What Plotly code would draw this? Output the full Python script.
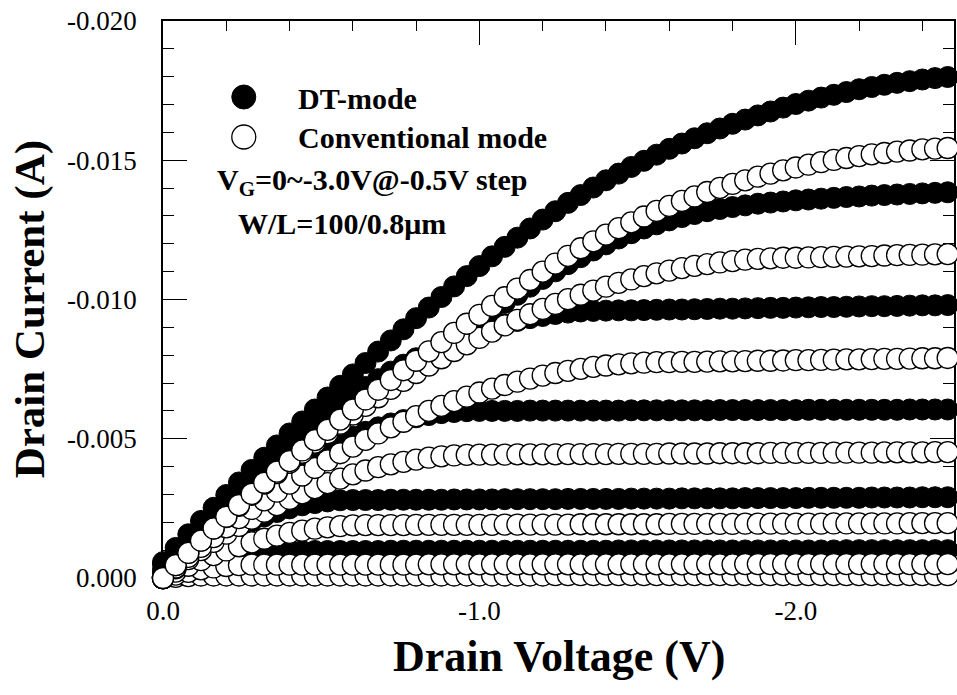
import plotly.graph_objects as go

# Drain voltage sweep (V)
vd = [0.00, -0.04, -0.08, -0.12, -0.16, -0.20, -0.24, -0.28, -0.32, -0.36,
      -0.40, -0.44, -0.48, -0.52, -0.56, -0.60, -0.64, -0.68, -0.72, -0.76,
      -0.80, -0.84, -0.88, -0.92, -0.96, -1.00, -1.04, -1.08, -1.12, -1.16,
      -1.20, -1.24, -1.28, -1.32, -1.36, -1.40, -1.44, -1.48, -1.52, -1.56,
      -1.60, -1.64, -1.68, -1.72, -1.76, -1.80, -1.84, -1.88, -1.92, -1.96,
      -2.00, -2.04, -2.08, -2.12, -2.16, -2.20, -2.24, -2.28, -2.32, -2.36,
      -2.40, -2.44, -2.48]

# DT-mode drain current (A), one list per gate voltage
dt_vg00 = [-0.00002, -0.00008, -0.00011, -0.00014, -0.00014, -0.00014, -0.00014, -0.00014, -0.00014, -0.00014,
           -0.00014, -0.00014, -0.00014, -0.00014, -0.00014, -0.00014, -0.00014, -0.00014, -0.00014, -0.00014,
           -0.00014, -0.00014, -0.00014, -0.00014, -0.00014, -0.00014, -0.00015, -0.00015, -0.00015, -0.00015,
           -0.00015, -0.00015, -0.00015, -0.00015, -0.00015, -0.00015, -0.00015, -0.00015, -0.00015, -0.00015,
           -0.00015, -0.00015, -0.00015, -0.00015, -0.00015, -0.00015, -0.00015, -0.00015, -0.00015, -0.00015,
           -0.00015, -0.00015, -0.00015, -0.00015, -0.00015, -0.00015, -0.00015, -0.00015, -0.00015, -0.00015,
           -0.00015, -0.00015, -0.00015]
dt_vg05 = [-0.00005, -0.00025, -0.00042, -0.00057, -0.00070, -0.00080, -0.00088, -0.00093, -0.00096, -0.00097,
           -0.00097, -0.00097, -0.00097, -0.00097, -0.00097, -0.00097, -0.00097, -0.00097, -0.00098, -0.00098,
           -0.00098, -0.00098, -0.00098, -0.00098, -0.00098, -0.00098, -0.00098, -0.00098, -0.00098, -0.00098,
           -0.00098, -0.00098, -0.00098, -0.00098, -0.00098, -0.00098, -0.00099, -0.00099, -0.00099, -0.00099,
           -0.00099, -0.00099, -0.00099, -0.00099, -0.00099, -0.00099, -0.00099, -0.00099, -0.00099, -0.00099,
           -0.00099, -0.00099, -0.00099, -0.00099, -0.00100, -0.00100, -0.00100, -0.00100, -0.00100, -0.00100,
           -0.00100, -0.00100, -0.00100]
dt_vg10 = [-0.00010, -0.00045, -0.00077, -0.00107, -0.00135, -0.00160, -0.00183, -0.00203, -0.00221, -0.00237,
           -0.00250, -0.00261, -0.00269, -0.00275, -0.00279, -0.00280, -0.00280, -0.00280, -0.00281, -0.00281,
           -0.00281, -0.00281, -0.00281, -0.00282, -0.00282, -0.00282, -0.00282, -0.00283, -0.00283, -0.00283,
           -0.00283, -0.00283, -0.00284, -0.00284, -0.00284, -0.00284, -0.00284, -0.00285, -0.00285, -0.00285,
           -0.00285, -0.00286, -0.00286, -0.00286, -0.00286, -0.00286, -0.00287, -0.00287, -0.00287, -0.00287,
           -0.00287, -0.00288, -0.00288, -0.00288, -0.00288, -0.00288, -0.00289, -0.00289, -0.00289, -0.00289,
           -0.00290, -0.00290, -0.00290]
dt_vg15 = [-0.00020, -0.00065, -0.00109, -0.00151, -0.00191, -0.00229, -0.00265, -0.00299, -0.00332, -0.00362,
           -0.00391, -0.00418, -0.00443, -0.00466, -0.00488, -0.00507, -0.00525, -0.00541, -0.00555, -0.00567,
           -0.00577, -0.00585, -0.00592, -0.00596, -0.00599, -0.00600, -0.00600, -0.00600, -0.00600, -0.00601,
           -0.00601, -0.00601, -0.00601, -0.00601, -0.00601, -0.00601, -0.00601, -0.00602, -0.00602, -0.00602,
           -0.00602, -0.00602, -0.00602, -0.00602, -0.00603, -0.00603, -0.00603, -0.00603, -0.00603, -0.00603,
           -0.00603, -0.00604, -0.00604, -0.00604, -0.00604, -0.00604, -0.00604, -0.00604, -0.00604, -0.00605,
           -0.00605, -0.00605, -0.00605]
dt_vg20 = [-0.00030, -0.00082, -0.00133, -0.00183, -0.00230, -0.00277, -0.00322, -0.00365, -0.00407, -0.00447,
           -0.00486, -0.00523, -0.00558, -0.00593, -0.00625, -0.00656, -0.00686, -0.00714, -0.00741, -0.00766,
           -0.00789, -0.00811, -0.00832, -0.00851, -0.00868, -0.00884, -0.00899, -0.00911, -0.00923, -0.00933,
           -0.00941, -0.00948, -0.00953, -0.00957, -0.00959, -0.00960, -0.00961, -0.00961, -0.00962, -0.00963,
           -0.00964, -0.00964, -0.00965, -0.00966, -0.00967, -0.00967, -0.00968, -0.00969, -0.00970, -0.00970,
           -0.00971, -0.00972, -0.00973, -0.00973, -0.00974, -0.00975, -0.00976, -0.00976, -0.00977, -0.00978,
           -0.00979, -0.00979, -0.00980]
dt_vg25 = [-0.00050, -0.00090, -0.00129, -0.00168, -0.00207, -0.00245, -0.00283, -0.00320, -0.00357, -0.00394,
           -0.00430, -0.00466, -0.00501, -0.00536, -0.00571, -0.00606, -0.00640, -0.00673, -0.00706, -0.00739,
           -0.00772, -0.00804, -0.00836, -0.00867, -0.00898, -0.00929, -0.00958, -0.00988, -0.01017, -0.01046,
           -0.01074, -0.01101, -0.01127, -0.01152, -0.01176, -0.01198, -0.01219, -0.01238, -0.01255, -0.01270,
           -0.01284, -0.01296, -0.01307, -0.01317, -0.01325, -0.01332, -0.01338, -0.01344, -0.01348, -0.01352,
           -0.01356, -0.01359, -0.01362, -0.01365, -0.01368, -0.01370, -0.01373, -0.01375, -0.01377, -0.01379,
           -0.01381, -0.01383, -0.01385]
dt_vg30 = [-0.00057, -0.00108, -0.00157, -0.00205, -0.00252, -0.00298, -0.00343, -0.00388, -0.00432, -0.00476,
           -0.00519, -0.00562, -0.00605, -0.00648, -0.00690, -0.00731, -0.00772, -0.00813, -0.00853, -0.00893,
           -0.00933, -0.00971, -0.01009, -0.01047, -0.01084, -0.01120, -0.01155, -0.01189, -0.01222, -0.01255,
           -0.01287, -0.01317, -0.01347, -0.01375, -0.01402, -0.01428, -0.01452, -0.01476, -0.01498, -0.01520,
           -0.01541, -0.01560, -0.01579, -0.01597, -0.01614, -0.01631, -0.01646, -0.01661, -0.01675, -0.01689,
           -0.01702, -0.01714, -0.01725, -0.01735, -0.01745, -0.01755, -0.01763, -0.01771, -0.01778, -0.01784,
           -0.01790, -0.01795, -0.01799]

# Conventional-mode drain current (A), one list per gate voltage
cv_vg00 = [0.00000, -0.00004, -0.00007, -0.00009, -0.00009, -0.00009, -0.00009, -0.00009, -0.00009, -0.00009,
           -0.00009, -0.00009, -0.00009, -0.00009, -0.00009, -0.00009, -0.00009, -0.00009, -0.00009, -0.00009,
           -0.00009, -0.00009, -0.00009, -0.00009, -0.00009, -0.00009, -0.00009, -0.00009, -0.00009, -0.00009,
           -0.00009, -0.00010, -0.00010, -0.00010, -0.00010, -0.00010, -0.00010, -0.00010, -0.00010, -0.00010,
           -0.00010, -0.00010, -0.00010, -0.00010, -0.00010, -0.00010, -0.00010, -0.00010, -0.00010, -0.00010,
           -0.00010, -0.00010, -0.00010, -0.00010, -0.00010, -0.00010, -0.00010, -0.00010, -0.00010, -0.00010,
           -0.00010, -0.00010, -0.00010]
cv_vg05 = [0.00000, -0.00012, -0.00022, -0.00031, -0.00038, -0.00043, -0.00046, -0.00048, -0.00048, -0.00048,
           -0.00048, -0.00048, -0.00048, -0.00048, -0.00048, -0.00048, -0.00048, -0.00048, -0.00048, -0.00048,
           -0.00048, -0.00049, -0.00049, -0.00049, -0.00049, -0.00049, -0.00049, -0.00049, -0.00049, -0.00049,
           -0.00049, -0.00049, -0.00049, -0.00049, -0.00049, -0.00049, -0.00049, -0.00049, -0.00049, -0.00049,
           -0.00049, -0.00049, -0.00049, -0.00049, -0.00049, -0.00049, -0.00050, -0.00050, -0.00050, -0.00050,
           -0.00050, -0.00050, -0.00050, -0.00050, -0.00050, -0.00050, -0.00050, -0.00050, -0.00050, -0.00050,
           -0.00050, -0.00050, -0.00050]
cv_vg10 = [0.00000, -0.00023, -0.00044, -0.00064, -0.00082, -0.00099, -0.00114, -0.00128, -0.00141, -0.00152,
           -0.00162, -0.00170, -0.00177, -0.00182, -0.00186, -0.00189, -0.00190, -0.00190, -0.00190, -0.00190,
           -0.00191, -0.00191, -0.00191, -0.00191, -0.00191, -0.00191, -0.00191, -0.00192, -0.00192, -0.00192,
           -0.00192, -0.00192, -0.00192, -0.00193, -0.00193, -0.00193, -0.00193, -0.00193, -0.00193, -0.00193,
           -0.00194, -0.00194, -0.00194, -0.00194, -0.00194, -0.00194, -0.00195, -0.00195, -0.00195, -0.00195,
           -0.00195, -0.00195, -0.00195, -0.00196, -0.00196, -0.00196, -0.00196, -0.00196, -0.00196, -0.00197,
           -0.00197, -0.00197, -0.00197]
cv_vg15 = [0.00000, -0.00035, -0.00068, -0.00100, -0.00130, -0.00159, -0.00187, -0.00213, -0.00238, -0.00262,
           -0.00284, -0.00304, -0.00323, -0.00341, -0.00357, -0.00372, -0.00386, -0.00398, -0.00408, -0.00417,
           -0.00425, -0.00432, -0.00437, -0.00440, -0.00442, -0.00443, -0.00443, -0.00443, -0.00444, -0.00444,
           -0.00444, -0.00444, -0.00445, -0.00445, -0.00445, -0.00445, -0.00446, -0.00446, -0.00446, -0.00446,
           -0.00447, -0.00447, -0.00447, -0.00447, -0.00448, -0.00448, -0.00448, -0.00448, -0.00449, -0.00449,
           -0.00449, -0.00449, -0.00449, -0.00450, -0.00450, -0.00450, -0.00450, -0.00451, -0.00451, -0.00451,
           -0.00451, -0.00452, -0.00452]
cv_vg20 = [0.00000, -0.00038, -0.00076, -0.00112, -0.00147, -0.00182, -0.00215, -0.00248, -0.00279, -0.00310,
           -0.00339, -0.00368, -0.00395, -0.00422, -0.00448, -0.00472, -0.00496, -0.00519, -0.00541, -0.00561,
           -0.00581, -0.00600, -0.00618, -0.00635, -0.00651, -0.00666, -0.00680, -0.00693, -0.00705, -0.00716,
           -0.00727, -0.00736, -0.00744, -0.00751, -0.00758, -0.00763, -0.00767, -0.00771, -0.00773, -0.00775,
           -0.00775, -0.00776, -0.00776, -0.00777, -0.00778, -0.00778, -0.00779, -0.00780, -0.00780, -0.00781,
           -0.00782, -0.00782, -0.00783, -0.00784, -0.00785, -0.00785, -0.00786, -0.00787, -0.00787, -0.00788,
           -0.00789, -0.00789, -0.00790]
cv_vg25 = [0.00000, -0.00046, -0.00090, -0.00134, -0.00177, -0.00219, -0.00259, -0.00299, -0.00339, -0.00377,
           -0.00414, -0.00450, -0.00486, -0.00520, -0.00554, -0.00587, -0.00618, -0.00649, -0.00679, -0.00708,
           -0.00736, -0.00763, -0.00789, -0.00815, -0.00839, -0.00862, -0.00885, -0.00907, -0.00927, -0.00947,
           -0.00966, -0.00984, -0.01001, -0.01017, -0.01032, -0.01046, -0.01060, -0.01072, -0.01084, -0.01094,
           -0.01104, -0.01113, -0.01121, -0.01127, -0.01133, -0.01138, -0.01143, -0.01146, -0.01148, -0.01150,
           -0.01150, -0.01151, -0.01152, -0.01153, -0.01154, -0.01155, -0.01156, -0.01158, -0.01159, -0.01160,
           -0.01161, -0.01162, -0.01163]
cv_vg30 = [0.00000, -0.00046, -0.00090, -0.00134, -0.00178, -0.00220, -0.00262, -0.00302, -0.00342, -0.00382,
           -0.00420, -0.00458, -0.00495, -0.00532, -0.00569, -0.00605, -0.00641, -0.00676, -0.00711, -0.00746,
           -0.00780, -0.00814, -0.00847, -0.00880, -0.00913, -0.00945, -0.00977, -0.01008, -0.01039, -0.01070,
           -0.01100, -0.01129, -0.01157, -0.01184, -0.01209, -0.01233, -0.01256, -0.01277, -0.01298, -0.01318,
           -0.01336, -0.01354, -0.01370, -0.01386, -0.01401, -0.01415, -0.01428, -0.01441, -0.01452, -0.01464,
           -0.01474, -0.01484, -0.01493, -0.01501, -0.01508, -0.01515, -0.01521, -0.01526, -0.01531, -0.01535,
           -0.01539, -0.01542, -0.01544]

gate_labels = ["0", "-0.5", "-1.0", "-1.5", "-2.0", "-2.5", "-3.0"]
dt_series = [dt_vg00, dt_vg05, dt_vg10, dt_vg15, dt_vg20, dt_vg25, dt_vg30]
cv_series = [cv_vg00, cv_vg05, cv_vg10, cv_vg15, cv_vg20, cv_vg25, cv_vg30]

x_tick_vals = [0.0, -1.0, -2.0]
x_tick_text = ["0.0", "-1.0", "-2.0"]
y_tick_vals = [0.0, -0.005, -0.010, -0.015, -0.020]
y_tick_text = ["0.000", "-0.005", "-0.010", "-0.015", "-0.020"]

SERIF = "Liberation Serif, Times New Roman, serif"
MARKER_SIZE = 21

fig = go.Figure()

for vg, ys in zip(gate_labels, dt_series):
    fig.add_trace(go.Scatter(
        x=vd, y=ys, mode="markers", name=f"DT-mode VG={vg}V",
        showlegend=False, cliponaxis=False,
        marker=dict(size=MARKER_SIZE, color="black",
                    line=dict(color="black", width=1)),
    ))

for vg, ys in zip(gate_labels, cv_series):
    fig.add_trace(go.Scatter(
        x=vd, y=ys, mode="markers", name=f"Conventional VG={vg}V",
        showlegend=False, cliponaxis=False,
        marker=dict(size=MARKER_SIZE, color="white",
                    line=dict(color="black", width=1.3)),
    ))

axis_common = dict(
    ticks="inside", ticklen=24, tickwidth=1.3, tickcolor="black",
    showline=True, linecolor="black", linewidth=1.5, mirror="ticks",
    showgrid=False, zeroline=False, layer="below traces",
    tickfont=dict(family=SERIF, size=27, color="black"),
)

fig.update_xaxes(
    range=[0, -2.5], tickmode="array", tickvals=x_tick_vals, ticktext=x_tick_text,
    minor=dict(ticks="inside", ticklen=10, tickwidth=1.3, tickcolor="black",
               tick0=0, dtick=0.2, showgrid=False),
    ticklabelstandoff=8, **axis_common,
)
fig.update_yaxes(
    range=[0, -0.020], tickmode="array", tickvals=y_tick_vals, ticktext=y_tick_text,
    minor=dict(ticks="inside", ticklen=11, tickwidth=1.3, tickcolor="black",
               tick0=0, dtick=0.001, showgrid=False),
    ticklabelstandoff=19, **axis_common,
)

# plot area: x 163..956 px, y 21..578 px
PW, PH, L, T = 793, 557, 163, 21


def px(xp):
    return (xp - L) / PW


def py(yp):
    return (T + PH - yp) / PH


annotations = [
    dict(text="<b>Drain Voltage (V)</b>", x=0.5, y=py(656), xref="paper", yref="paper",
         showarrow=False, xanchor="center", yanchor="middle",
         font=dict(family=SERIF, size=44, color="black")),
    dict(text="<b>Drain Current (A)</b>", x=px(30), y=py(309), xref="paper", yref="paper",
         showarrow=False, xanchor="center", yanchor="middle", textangle=-90,
         font=dict(family=SERIF, size=43, color="black")),
    dict(text="<b>DT-mode</b>", x=px(296), y=py(98), xref="paper", yref="paper",
         showarrow=False, xanchor="left", yanchor="middle",
         font=dict(family=SERIF, size=30, color="black")),
    dict(text="<b>Conventional mode</b>", x=px(296), y=py(138), xref="paper", yref="paper",
         showarrow=False, xanchor="left", yanchor="middle",
         font=dict(family=SERIF, size=30, color="black")),
    dict(text="<b>V<sub>G</sub>=0~-3.0V@-0.5V step</b>", x=px(215), y=py(182), xref="paper", yref="paper",
         showarrow=False, xanchor="left", yanchor="middle",
         font=dict(family=SERIF, size=30, color="black")),
    dict(text="<b>W/L=100/0.8\u03bcm</b>", x=px(236), y=py(224), xref="paper", yref="paper",
         showarrow=False, xanchor="left", yanchor="middle",
         font=dict(family=SERIF, size=30, color="black")),
]

legend_shapes = [
    dict(type="circle", xref="paper", yref="paper", xsizemode="pixel", ysizemode="pixel",
         xanchor=px(244), yanchor=py(97), x0=-12, x1=12, y0=-12, y1=12,
         fillcolor="black", line=dict(color="black", width=1)),
    dict(type="circle", xref="paper", yref="paper", xsizemode="pixel", ysizemode="pixel",
         xanchor=px(244), yanchor=py(137), x0=-12, x1=12, y0=-12, y1=12,
         fillcolor="white", line=dict(color="black", width=1.3)),
]

fig.update_layout(
    width=957, height=695,
    margin=dict(l=L, r=957 - L - PW, t=T, b=695 - T - PH, pad=0),
    paper_bgcolor="white", plot_bgcolor="white",
    showlegend=False,
    annotations=annotations,
    shapes=legend_shapes,
    font=dict(family=SERIF, color="black"),
)

fig.write_html("out.html")
